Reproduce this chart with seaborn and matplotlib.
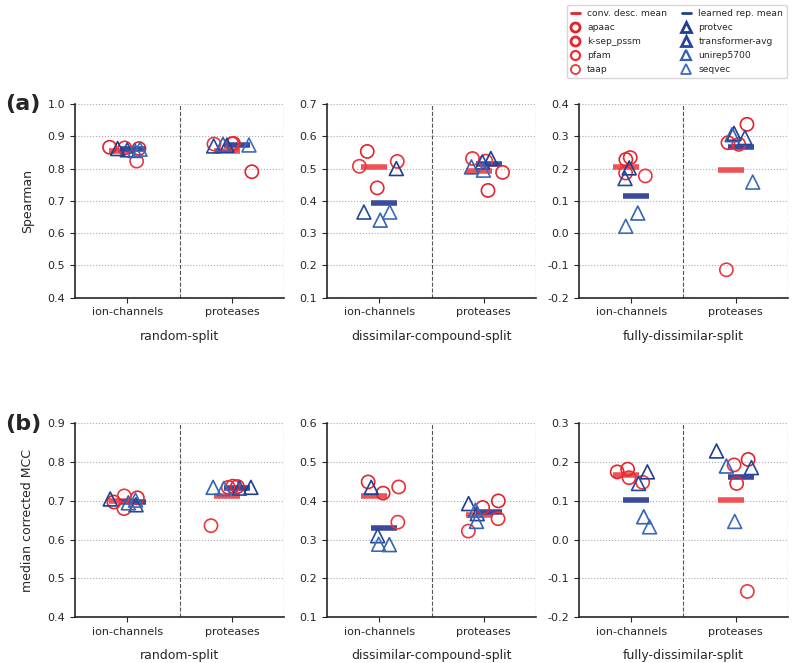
import numpy as np
import pandas as pd
import matplotlib
matplotlib.use("Agg")
import matplotlib.pyplot as plt
from matplotlib.lines import Line2D
import seaborn as sns

targets = ["ion-channels", "proteases"]
splits = ["random-split", "dissimilar-compound-split", "fully-dissimilar-split"]
conv_methods = ["apaac", "k-sep_pssm", "pfam", "taap"]
learned_methods = ["protvec", "transformer-avg", "unirep5700", "seqvec"]

# each list: 4 values for ion-channels, then 4 for proteases (method order as above)
sp_random_conv = [0.866, 0.862, 0.864, 0.823, 0.790, 0.878, 0.877, 0.876]
sp_random_learned = [0.862, 0.858, 0.856, 0.860, 0.872, 0.870, 0.875, 0.873]
sp_dcomp_conv = [0.553, 0.440, 0.522, 0.507, 0.432, 0.488, 0.531, 0.523]
sp_dcomp_learned = [0.500, 0.365, 0.340, 0.365, 0.531, 0.520, 0.505, 0.495]
sp_fully_conv = [0.228, 0.234, 0.186, 0.177, 0.337, 0.280, 0.275, -0.114]
sp_fully_learned = [0.202, 0.169, 0.062, 0.021, 0.309, 0.296, 0.305, 0.158]

mcc_random_conv = [0.697, 0.708, 0.680, 0.713, 0.737, 0.738, 0.735, 0.636]
mcc_random_learned = [0.705, 0.690, 0.695, 0.702, 0.735, 0.733, 0.735, 0.732]
mcc_dcomp_conv = [0.420, 0.449, 0.436, 0.345, 0.400, 0.383, 0.354, 0.322]
mcc_dcomp_learned = [0.435, 0.310, 0.287, 0.288, 0.393, 0.367, 0.347, 0.376]
mcc_fully_conv = [0.175, 0.182, 0.160, 0.148, 0.207, 0.145, 0.193, -0.134]
mcc_fully_learned = [0.175, 0.145, 0.059, 0.033, 0.229, 0.186, 0.190, 0.047]

panels = {
    ("Spearman", "random-split"): (sp_random_conv, sp_random_learned),
    ("Spearman", "dissimilar-compound-split"): (sp_dcomp_conv, sp_dcomp_learned),
    ("Spearman", "fully-dissimilar-split"): (sp_fully_conv, sp_fully_learned),
    ("median corrected MCC", "random-split"): (mcc_random_conv, mcc_random_learned),
    ("median corrected MCC", "dissimilar-compound-split"): (mcc_dcomp_conv, mcc_dcomp_learned),
    ("median corrected MCC", "fully-dissimilar-split"): (mcc_fully_conv, mcc_fully_learned),
}

rows = []
for (metric, split), (conv, learned) in panels.items():
    for kind, vals, methods in [("conv", conv, conv_methods), ("learned", learned, learned_methods)]:
        for i, v in enumerate(vals):
            rows.append([metric, split, targets[i // 4], kind, methods[i % 4], v])
df = pd.DataFrame(rows, columns=["metric", "split", "target", "kind", "method", "value"])

ylims = {
    "Spearman": [(0.4, 1.0), (0.1, 0.7), (-0.2, 0.4)],
    "median corrected MCC": [(0.4, 0.9), (0.1, 0.6), (-0.2, 0.3)],
}

conv_pal = {"apaac": "#e0232a", "k-sep_pssm": "#e4282e", "pfam": "#e93036", "taap": "#ec383d"}
learned_pal = {"protvec": "#1f3f8e", "transformer-avg": "#24489c", "unirep5700": "#3262b2", "seqvec": "#3a6abb"}
mean_pal = {"conv": "#ef5256", "learned": "#3c4a9e"}

sns.set_style("ticks")
plt.rcParams["font.family"] = ["DejaVu Sans"]
plt.rcParams["axes.unicode_minus"] = False

fig, axes = plt.subplots(2, 3, figsize=(7.93, 6.63), dpi=100)
plt.subplots_adjust(left=0.0946, right=0.9937, top=0.8431, bottom=0.0694, wspace=0.205, hspace=0.651)

np.random.seed(7)

def hollow(ax, start):
    for c in ax.collections[start:]:
        c.set_edgecolors(c.get_facecolors())
        c.set_facecolors("none")
        c.set_linewidth(1.2)
        c.set_zorder(3)

for r, metric in enumerate(["Spearman", "median corrected MCC"]):
    for c, split in enumerate(splits):
        ax = axes[r, c]
        sub = df[(df.metric == metric) & (df.split == split)]

        n0 = len(ax.collections)
        sns.stripplot(data=sub[sub.kind == "conv"], x="target", y="value", hue="method",
                      hue_order=conv_methods, palette=conv_pal, order=targets,
                      marker="o", size=9.5, jitter=0.2, linewidth=0, legend=False, ax=ax)
        hollow(ax, n0)
        n0 = len(ax.collections)
        sns.stripplot(data=sub[sub.kind == "learned"], x="target", y="value", hue="method",
                      hue_order=learned_methods, palette=learned_pal, order=targets,
                      marker="^", size=10, jitter=0.2, linewidth=0, legend=False, ax=ax)
        hollow(ax, n0)

        sns.pointplot(data=sub, x="target", y="value", hue="kind", hue_order=["conv", "learned"],
                      order=targets, palette=mean_pal, estimator="mean", errorbar=None,
                      markers="_", linestyles="none", dodge=0.1, markersize=19,
                      markeredgewidth=4, legend=False, ax=ax)

        lo, hi = ylims[metric][c]
        ax.set_ylim(lo, hi)
        ax.set_yticks(np.round(np.arange(lo, hi + 0.001, 0.1), 1))
        ax.set_xlim(-0.5, 1.5)
        ax.grid(axis="y", linestyle=":", color="#aaaaaa", linewidth=0.8)
        ax.set_axisbelow(True)
        for xv in [0.5, 1.5]:
            ax.axvline(xv, color="#555555", linestyle="--", linewidth=0.8, zorder=0)
        ax.tick_params(labelsize=8)
        ax.set_xlabel(split, fontsize=9, labelpad=9)
        ax.set_ylabel(metric if c == 0 else "", fontsize=9, labelpad=10)
        sns.despine(ax=ax)
        for s in ["left", "bottom"]:
            ax.spines[s].set_linewidth(1.2)

fig.text(0.006, 1 - 104 / 663, "(a)", fontsize=16, fontweight="bold", va="center")
fig.text(0.006, 1 - 424 / 663, "(b)", fontsize=16, fontweight="bold", va="center")

handles = [
    Line2D([], [], color="#e0232a", lw=2),
    Line2D([], [], color="#1f3f8e", lw=2),
]
labels = ["conv. desc. mean", "learned rep. mean"]
mews = [2.0, 2.0, 1.6, 1.3]
for m, w in zip(conv_methods, mews):
    handles.append(Line2D([], [], marker="o", ls="none", mfc="none", mec=conv_pal[m], mew=w, ms=6.5))
    labels.append(m)
for m, w in zip(learned_methods, mews):
    handles.append(Line2D([], [], marker="^", ls="none", mfc="none", mec=learned_pal[m], mew=w, ms=6.5))
    labels.append(m)
# column-wise order for a 2-col legend
order = [0, 2, 3, 4, 5, 1, 6, 7, 8, 9]
fig.legend([handles[i] for i in order], [labels[i] for i in order], ncol=2, fontsize=6.6,
           loc="upper right", bbox_to_anchor=(0.998, 0.999), handlelength=1.0,
           frameon=True, edgecolor="#cccccc", fancybox=True, columnspacing=1.6,
           labelspacing=0.55)

plt.savefig("out.png", dpi=100)
